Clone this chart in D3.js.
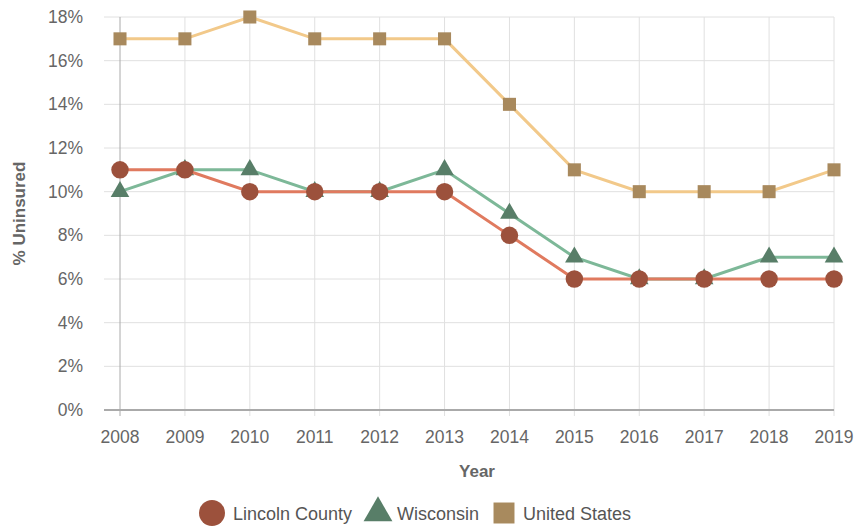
<!DOCTYPE html>
<html>
<head>
<meta charset="utf-8">
<script src="https://cdn.jsdelivr.net/npm/d3@7"></script>
<style>
  body { margin: 0; background: #fff; }
  text { font-family: "Liberation Sans", Arial, sans-serif; }
</style>
</head>
<body>
<script>
var years = [2008, 2009, 2010, 2011, 2012, 2013, 2014, 2015, 2016, 2017, 2018, 2019];
var lincoln = [11, 11, 10, 10, 10, 10, 8, 6, 6, 6, 6, 6];
var wisconsin = [10, 11, 11, 10, 10, 11, 9, 7, 6, 6, 7, 7];
var unitedStates = [17, 17, 18, 17, 17, 17, 14, 11, 10, 10, 10, 11];
var yTicks = [0, 2, 4, 6, 8, 10, 12, 14, 16, 18];

var width = 857, height = 527;
var left = 104, x0 = 120, x1 = 834, yTop = 17, yBot = 410;

var svg = d3.select("body").append("svg")
    .attr("width", width)
    .attr("height", height);

var x = d3.scalePoint().domain(years).range([x0, x1]);
var y = d3.scaleLinear().domain([0, 18]).range([yBot, yTop]);

// horizontal grid
svg.append("g").selectAll("line")
    .data(yTicks.slice(1))
    .enter().append("line")
    .attr("x1", left).attr("x2", x1)
    .attr("y1", function(d) { return y(d); })
    .attr("y2", function(d) { return y(d); })
    .style("stroke", "#e0e0e0").style("stroke-width", 1);

// vertical grid
svg.append("g").selectAll("line")
    .data(years)
    .enter().append("line")
    .attr("x1", function(d) { return x(d); })
    .attr("x2", function(d) { return x(d); })
    .attr("y1", yTop).attr("y2", yBot + 6)
    .style("stroke", function(d, i) { return i == 0 ? "#aaa" : "#e0e0e0"; })
    .style("stroke-width", 1);

// x axis line
svg.append("line")
    .attr("x1", left).attr("x2", x1)
    .attr("y1", yBot).attr("y2", yBot)
    .style("stroke", "#aaa").style("stroke-width", 2);

// y tick labels
svg.append("g").selectAll("text")
    .data(yTicks)
    .enter().append("text")
    .attr("x", 83)
    .attr("y", function(d) { return y(d) + 6; })
    .attr("text-anchor", "end")
    .style("font-size", "17.5px").style("fill", "#666")
    .text(function(d) { return d + "%"; });

// x tick labels
svg.append("g").selectAll("text")
    .data(years)
    .enter().append("text")
    .attr("x", function(d) { return x(d); })
    .attr("y", 443)
    .attr("text-anchor", "middle")
    .style("font-size", "17.5px").style("fill", "#666")
    .text(function(d) { return d; });

// axis titles
svg.append("text")
    .attr("x", 477).attr("y", 477)
    .attr("text-anchor", "middle")
    .style("font-size", "17px").style("font-weight", "bold").style("fill", "#666")
    .text("Year");

svg.append("text")
    .attr("transform", "translate(25," + ((yTop + yBot) / 2) + ") rotate(-90)")
    .attr("text-anchor", "middle")
    .style("font-size", "17px").style("font-weight", "bold").style("fill", "#666")
    .text("% Uninsured");

var series = [
  {name: "United States", values: unitedStates, line: "#f2c98a", marker: "#a8895d", shape: d3.symbolSquare, size: 170},
  {name: "Wisconsin", values: wisconsin, line: "#7db898", marker: "#587e68", shape: d3.symbolTriangle, size: 150},
  {name: "Lincoln County", values: lincoln, line: "#e07a5f", marker: "#9c513c", shape: d3.symbolCircle, size: 240}
];

var line = d3.line()
    .x(function(d, i) { return x(years[i]); })
    .y(function(d) { return y(d); });

series.forEach(function(s) {
  var g = svg.append("g");
  g.append("path")
      .attr("d", line(s.values))
      .style("fill", "none")
      .style("stroke", s.line)
      .style("stroke-width", 3);
  g.selectAll("path.pt")
      .data(s.values)
      .enter().append("path")
      .attr("class", "pt")
      .attr("transform", function(d, i) { return "translate(" + x(years[i]) + "," + y(d) + ")"; })
      .attr("d", d3.symbol().type(s.shape).size(s.size))
      .style("fill", s.marker);
});

// legend
var legend = [
  {name: "Lincoln County", marker: "#9c513c", shape: d3.symbolCircle, size: 530, cx: 212, tx: 233},
  {name: "Wisconsin", marker: "#587e68", shape: d3.symbolTriangle, size: 360, cx: 378, tx: 397},
  {name: "United States", marker: "#a88a5e", shape: d3.symbolSquare, size: 440, cx: 504, tx: 523}
];

var lg = svg.append("g").selectAll("g")
    .data(legend)
    .enter().append("g");

lg.append("path")
    .attr("transform", function(d) { return "translate(" + d.cx + ",513)"; })
    .attr("d", function(d) { return d3.symbol().type(d.shape).size(d.size)(); })
    .style("fill", function(d) { return d.marker; });

lg.append("text")
    .attr("x", function(d) { return d.tx; })
    .attr("y", 520)
    .style("font-size", "18px").style("fill", "#555")
    .text(function(d) { return d.name; });
</script>
</body>
</html>
